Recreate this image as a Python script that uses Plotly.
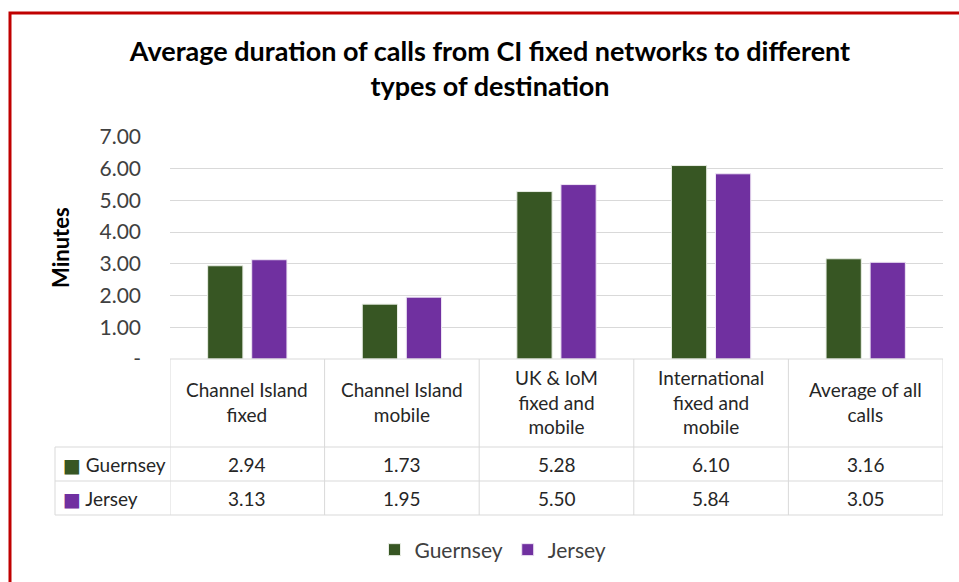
import plotly.graph_objects as go

categories = ["Channel Island fixed", "Channel Island mobile", "UK & IoM fixed and mobile",
              "International fixed and mobile", "Average of all calls"]
header_labels = ["Channel Island<br>fixed", "Channel Island<br>mobile", "UK & IoM<br>fixed and<br>mobile",
                 "International<br>fixed and<br>mobile", "Average of all<br>calls"]
guernsey = [2.94, 1.73, 5.28, 6.10, 3.16]
jersey = [3.13, 1.95, 5.50, 5.84, 3.05]
tick_vals = [0, 1, 2, 3, 4, 5, 6, 7]
tick_text = ["-", "1.00", "2.00", "3.00", "4.00", "5.00", "6.00", "7.00"]

GREEN = "#375623"
PURPLE = "#7030A0"
GRID = "#d9d9d9"
FONT = "Lato, DejaVu Sans, sans-serif"
TXT = "#262626"

W, H = 959, 582
L, R, T, B = 170, 16, 137, 223
PW, PH = W - L - R, H - T - B

def px_x(p):
    return (p - L) / PW

def px_y(p):
    return (H - B - p) / PH

xs = list(range(len(categories)))

fig = go.Figure()
fig.add_trace(go.Bar(x=xs, y=guernsey, name="Guernsey", marker=dict(color=GREEN, line=dict(color="#e8ede4", width=1))))
fig.add_trace(go.Bar(x=xs, y=jersey, name="Jersey", marker=dict(color=PURPLE, line=dict(color="#efe6f5", width=1))))

shapes = []
y_head_top = px_y(359)
y_head_bot = px_y(447)
y_r1_bot = px_y(481)
y_r2_bot = px_y(515)
x_left = px_x(55)
line = dict(color=GRID, width=1)
shapes.append(dict(type="line", xref="paper", yref="paper", x0=0, x1=1, y0=y_head_top, y1=y_head_top, line=line))
for yy in (y_head_bot, y_r1_bot, y_r2_bot):
    shapes.append(dict(type="line", xref="paper", yref="paper", x0=x_left, x1=1, y0=yy, y1=yy, line=line))
for i in range(len(categories) + 1):
    xb = i - 0.5
    shapes.append(dict(type="line", xref="x", yref="paper", x0=xb, x1=xb, y0=y_head_top, y1=y_r2_bot, line=line))
shapes.append(dict(type="line", xref="paper", yref="paper", x0=x_left, x1=x_left, y0=y_head_bot, y1=y_r2_bot, line=line))
shapes.append(dict(type="rect", xref="paper", yref="paper", x0=px_x(10), x1=px_x(1000), y0=px_y(13), y1=px_y(640),
                   line=dict(color="#c00000", width=3), fillcolor="rgba(0,0,0,0)", layer="above"))

TF = dict(family=FONT, size=19, color=TXT)
annotations = []
for i, lab in enumerate(header_labels):
    annotations.append(dict(x=i, xref="x", y=px_y(402), yref="paper", text=lab, showarrow=False,
                            font=TF, xanchor="center", yanchor="middle"))
    annotations.append(dict(x=i, xref="x", y=px_y(464), yref="paper", text=f"{guernsey[i]:.2f}", showarrow=False,
                            font=TF, xanchor="center", yanchor="middle"))
    annotations.append(dict(x=i, xref="x", y=px_y(498), yref="paper", text=f"{jersey[i]:.2f}", showarrow=False,
                            font=TF, xanchor="center", yanchor="middle"))
annotations.append(dict(x=px_x(61), xref="paper", y=px_y(464), yref="paper",
                        text=f'<span style="color:{GREEN}">■</span> Guernsey', showarrow=False,
                        font=TF, xanchor="left", yanchor="middle"))
annotations.append(dict(x=px_x(61), xref="paper", y=px_y(498), yref="paper",
                        text=f'<span style="color:{PURPLE}">■</span> Jersey', showarrow=False,
                        font=TF, xanchor="left", yanchor="middle"))
annotations.append(dict(x=px_x(60), xref="paper", y=0.5, yref="paper", text="<b>Minutes</b>", textangle=-90,
                        showarrow=False, font=dict(family=FONT, size=22, color="#000000"),
                        xanchor="center", yanchor="middle"))

fig.update_layout(
    width=W, height=H,
    margin=dict(l=L, r=R, t=T, b=B),
    paper_bgcolor="white", plot_bgcolor="white",
    title=dict(text="<b>Average duration of calls from CI fixed networks to different<br>types of destination</b>",
               x=490 / W, xanchor="center", y=1 - 61 / H, yanchor="middle", yref="container",
               font=dict(family=FONT, size=27, color="#000000")),
    barmode="group", bargap=0.43, bargroupgap=0.2,
    xaxis=dict(range=[-0.5, len(categories) - 0.5], showticklabels=False, showgrid=False, zeroline=False,
               showline=False, ticks=""),
    yaxis=dict(range=[0, 7], tickvals=tick_vals, ticktext=tick_text, showgrid=True, gridcolor=GRID, gridwidth=1,
               zeroline=False, showline=False, ticks="", ticklabelstandoff=28,
               tickfont=dict(family=FONT, size=21, color="#404040")),
    legend=dict(orientation="h", x=px_x(493), xanchor="center", y=px_y(550), yanchor="middle",
                font=dict(family=FONT, size=21, color="#404040"), itemwidth=30, traceorder="normal"),
    shapes=shapes, annotations=annotations,
)

fig.write_html("out.html", post_script="document.body.style.margin='0';",
               config={"displayModeBar": False})
